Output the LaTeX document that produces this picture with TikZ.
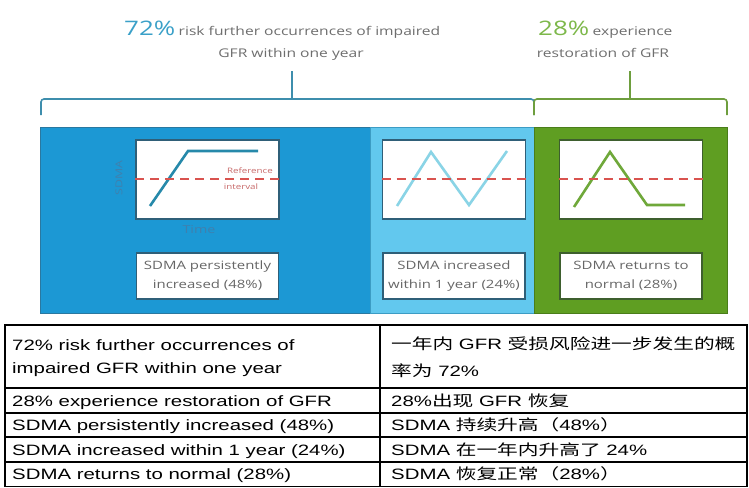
\documentclass[tikz,border=0pt]{standalone}
\usepackage{fontspec}
\newfontfamily\figfont{Open Sans}[FakeStretch=1.3]
\newfontfamily\tabfont{Liberation Sans}[FakeStretch=1.36]
\newfontfamily\cjk{Noto Sans CJK SC}[FakeStretch=1.38]

\definecolor{panelDark}{HTML}{1C98D4}
\definecolor{panelDarkEdge}{HTML}{2A78A0}
\definecolor{panelLight}{HTML}{62C8EE}
\definecolor{panelLightEdge}{HTML}{3C9CC4}
\definecolor{panelGreen}{HTML}{5F9E22}
\definecolor{panelGreenEdge}{HTML}{4A7D1A}
\definecolor{braceBlue}{HTML}{3E8EAD}
\definecolor{braceGreen}{HTML}{6E9E3E}
\definecolor{pctBlue}{HTML}{3AA0C8}
\definecolor{pctGreen}{HTML}{7DB84A}
\definecolor{headGray}{HTML}{6E6E6E}
\definecolor{labelGray}{HTML}{666666}
\definecolor{boxBlue}{HTML}{2F5F78}
\definecolor{boxGreen}{HTML}{3E5F2E}
\definecolor{trendDark}{HTML}{2689AA}
\definecolor{trendLight}{HTML}{8AD4E6}
\definecolor{trendGreen}{HTML}{6FA83A}
\definecolor{refRed}{HTML}{D9534F}
\definecolor{refText}{HTML}{C86A6A}
\definecolor{axisText}{HTML}{3F80AE}

\tikzset{
  chartbox/.style={draw=#1, line width=1.6pt, fill=white,
    minimum width=143pt, minimum height=79pt, inner sep=0pt},
  labelbox/.style={draw=#1, line width=1.6pt, fill=white,
    minimum width=142pt, minimum height=46pt, inner sep=0pt, align=center,
    font=\figfont\fontsize{11.5}{19}\selectfont, text=labelGray},
  trend/.style={draw=#1, line width=2.6pt},
  refline/.style={draw=refRed, line width=2.4pt, dash pattern=on 9pt off 6pt},
  bracepath/.style={draw=#1, line width=1.6pt, rounded corners=3pt},
  headsmall/.style={inner sep=0pt, text=headGray,
    font=\figfont\fontsize{12}{15}\selectfont},
  headbig/.style={inner sep=0pt, text=#1,
    font=\figfont\fontsize{20}{24}\selectfont},
  tabtext/.style={anchor=base west, inner sep=0pt, text=black,
    font=\tabfont\fontsize{15}{18}\selectfont},
  gridline/.style={draw=black, line width=1.3pt},
}

\begin{document}
\begin{tikzpicture}[x=1pt,y=-1pt]
\useasboundingbox (0,0) rectangle (749,487);
\fill[white] (0,0) rectangle (749,487);

% ---- headings
\node[headbig=pctBlue, anchor=base west] (p72) at (124,36) {72\%};
\node[headsmall, anchor=base west] (h72a) at ([xshift=3pt]p72.base east)
  {risk further occurrences of impaired};
\node[headsmall, anchor=base] (h72b) at (291,57) {GFR within one year};
\node[headbig=pctGreen, anchor=base west] (p28) at (538,36) {28\%};
\node[headsmall, anchor=base west] (h28a) at ([xshift=3pt]p28.base east)
  {experience};
\node[headsmall, anchor=base] (h28b) at (603,57) {restoration of GFR};

% ---- brace over the three groups
\draw[bracepath=braceBlue] (41,115) |- (534,99) -- (534,115);
\draw[bracepath=braceGreen] (534,115) |- (727,99) -- (727,115);
\draw[draw=braceBlue, line width=1.6pt] (292,71) -- (292,99);
\draw[draw=braceGreen, line width=1.6pt] (630,71) -- (630,99);

% ---- coloured panel
\fill[panelDark] (40,127) rectangle (370,313);
\fill[panelLight] (370,127) rectangle (534,313);
\fill[panelGreen] (534,127) rectangle (727,313);
\draw[panelDarkEdge, line width=1pt] (40,127) rectangle (370,313);
\draw[panelLightEdge, line width=1pt] (370,127) rectangle (534,313);
\draw[panelGreenEdge, line width=1pt] (534,127) rectangle (727,313);

% ---- persistently increased
\node[chartbox=boxBlue] (chartA) at (207.5,179.5) {};
\draw[trend=trendDark] (150,206) -- (188,151) -- (258,151);
\draw[refline] (chartA.west |- 0,179) -- (chartA.east |- 0,179);
\node[inner sep=0pt, text=refText, font=\figfont\fontsize{7.5}{8}\selectfont]
  (refA) at (250,171) {Reference};
\node[inner sep=0pt, text=refText, font=\figfont\fontsize{7.5}{8}\selectfont]
  (refB) at (241,187) {interval};
\node[rotate=90, inner sep=0pt, text=axisText,
  font=\figfont\fontsize{9.5}{10}\selectfont] (axisY) at (119,178) {SDMA};
\node[inner sep=0pt, text=axisText, font=\figfont\fontsize{11}{12}\selectfont]
  (axisX) at (199,230) {Time};
\node[labelbox=boxBlue] (labA) at (207.5,276) {SDMA persistently\\increased (48\%)};

% ---- increased within one year
\node[chartbox=boxBlue] (chartB) at (454,179.5) {};
\draw[trend=trendLight] (397,206) -- (431,152) -- (469,205) -- (507,151);
\draw[refline] (chartB.west |- 0,179) -- (chartB.east |- 0,179);
\node[labelbox=boxBlue] (labB) at (454,276) {SDMA increased\\within 1 year (24\%)};

% ---- returns to normal
\node[chartbox=boxGreen] (chartC) at (631,179.5) {};
\draw[trend=trendGreen] (574,207) -- (610,152) -- (647,205) -- (685,205);
\draw[refline] (chartC.west |- 0,179) -- (chartC.east |- 0,179);
\node[labelbox=boxGreen] (labC) at (631,276) {SDMA returns to\\normal (28\%)};

% ---- translation table
\draw[gridline] (5,325) rectangle (747,486.5);
\foreach \yy in {388,413,437,462} \draw[gridline] (5,\yy) -- (747,\yy);
\draw[gridline] (380,325) -- (380,486.5);

\node[tabtext] (l1a) at (12,350) {72\% risk further occurrences of};
\node[tabtext] (l1b) at (12,373) {impaired GFR within one year};
\node[tabtext] (r1a) at (391,349) {{\cjk 一年内} GFR {\cjk 受损风险进一步发生的概}};
\node[tabtext] (r1b) at (391,376) {{\cjk 率为} 72\%};
\node[tabtext] (l2) at (12,406) {28\% experience restoration of GFR};
\node[tabtext] (r2) at (391,406) {28\%{\cjk 出现} GFR {\cjk 恢复}};
\node[tabtext] (l3) at (12,430.5) {SDMA persistently increased (48\%)};
\node[tabtext] (r3) at (391,430.5) {SDMA {\cjk 持续升高（}48\%{\cjk ）}};
\node[tabtext] (l4) at (12,455) {SDMA increased within 1 year (24\%)};
\node[tabtext] (r4) at (391,455) {SDMA {\cjk 在一年内升高了} 24\%};
\node[tabtext] (l5) at (12,479.5) {SDMA returns to normal (28\%)};
\node[tabtext] (r5) at (391,479.5) {SDMA {\cjk 恢复正常（}28\%{\cjk ）}};
\end{tikzpicture}
\end{document}
